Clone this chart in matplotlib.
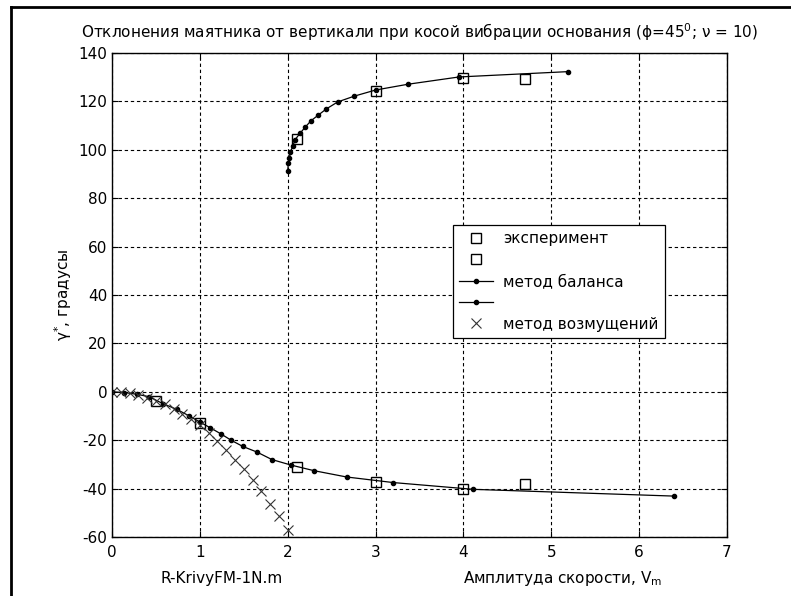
import matplotlib.pyplot as plt
from matplotlib.lines import Line2D

plt.rcParams['font.family'] = ['DejaVu Sans']
plt.rcParams['mathtext.fontset'] = 'custom'
plt.rcParams['mathtext.rm'] = 'DejaVu Sans'
plt.rcParams['axes.unicode_minus'] = False

FS = 11

# эксперимент: нижняя и верхняя ветви
exp_low_x = [0.5, 1.0, 2.1, 3.0, 4.0, 4.7]
exp_low_y = [-4.0, -13.0, -31.2, -37.4, -40.3, -38.3]
exp_up_x = [2.1, 3.0, 4.0, 4.7]
exp_up_y = [104.3, 124.5, 129.8, 129.3]

# метод баланса: нижняя ветвь
bal_low_x = [0, 0.14, 0.28, 0.42, 0.58, 0.74, 0.88, 1.0, 1.12, 1.24, 1.36,
             1.49, 1.65, 1.82, 2.04, 2.30, 2.67, 3.20, 4.11, 6.40]
bal_low_y = [0, -0.3, -1.0, -2.0, -4.9, -7.3, -10.0, -12.5, -14.9, -17.4, -20.1,
             -22.6, -24.9, -28.0, -30.3, -32.6, -35.2, -37.5, -40.3, -43.1]

# метод баланса: верхняя ветвь
bal_up_x = [2.0, 2.007, 2.02, 2.03, 2.06, 2.08, 2.14, 2.20, 2.265, 2.35, 2.44,
            2.57, 2.76, 3.0, 3.37, 3.95, 5.19]
bal_up_y = [91.4, 94.4, 96.7, 99.1, 101.6, 104.0, 106.8, 109.4, 112.0, 114.4, 116.9,
            119.8, 122.2, 124.7, 127.1, 130.1, 132.3]

# метод возмущений
pert_x = [0.0, 0.1, 0.2, 0.3, 0.4, 0.5, 0.6, 0.7, 0.8, 0.9, 1.0,
          1.1, 1.2, 1.3, 1.4, 1.5, 1.6, 1.7, 1.8, 1.9, 2.0]
pert_y = [0.0, -0.2, -0.6, -1.3, -2.4, -3.6, -5.2, -7.0, -9.0, -11.2, -13.8,
          -17.0, -20.5, -24.2, -28.0, -32.0, -36.5, -41.0, -46.3, -51.3, -57.3]

fig = plt.figure(figsize=(7.91, 5.96), dpi=100)
ax = fig.add_axes([112 / 791, 59 / 596, 615 / 791, 484 / 596])

sq = dict(linestyle='none', marker='s', markersize=7.5, markerfacecolor='none',
          markeredgecolor='black', markeredgewidth=1.0)
ln = dict(color='black', linewidth=0.9, marker='o', markersize=3)

ax.plot(exp_low_x, exp_low_y, label='эксперимент', **sq)
ax.plot(exp_up_x, exp_up_y, label=' ', **sq)
ax.plot(bal_low_x, bal_low_y, label='метод баланса', **ln)
ax.plot(bal_up_x, bal_up_y, label='  ', **ln)
ax.plot(pert_x, pert_y, linestyle='none', marker='x', markersize=6.5,
        color='#333333', markeredgewidth=0.8, label='метод возмущений')

ax.set_xlim(0, 7)
ax.set_ylim(-60, 140)
ax.set_xticks(range(0, 8))
ax.set_yticks(range(-60, 141, 20))
ax.grid(True, color='black', linestyle=(0, (3, 2.5)), linewidth=0.8)
ax.tick_params(direction='in', top=True, right=True, labelsize=FS, length=4)
ax.tick_params(axis='x', pad=6)
for s in ax.spines.values():
    s.set_linewidth(1.0)

ax.set_title('Отклонения маятника от вертикали при косой вибрации основания '
             '(ϕ=45$\\mathregular{^0}$; ν = 10)', fontsize=FS, pad=11)
ax.set_ylabel('$\\mathregular{γ^{*}}$, градусы', fontsize=FS, labelpad=3)

ax.text(161 / 791, 17 / 596, 'R-KrivyFM-1N.m', transform=fig.transFigure,
        fontsize=FS, va='center', ha='left')
ax.text(463 / 791, 17 / 596, 'Амплитуда скорости, V$\\mathregular{_m}$',
        transform=fig.transFigure, fontsize=FS, va='center', ha='left')

leg = ax.legend(loc='upper left', bbox_to_anchor=(0.5545, 0.6446), fontsize=FS,
                frameon=True, fancybox=False, edgecolor='black', framealpha=1,
                borderpad=0.4, labelspacing=0.42, handlelength=2.2,
                handletextpad=0.7, borderaxespad=0)
leg.get_frame().set_linewidth(0.9)

# рамка окна слева и сверху
fig.add_artist(Line2D([11 / 791, 11 / 791], [0, 1 - 7 / 596], color='black',
                      linewidth=2, transform=fig.transFigure))
fig.add_artist(Line2D([11 / 791, 1], [1 - 7 / 596, 1 - 7 / 596], color='black',
                      linewidth=2, transform=fig.transFigure))

fig.savefig('out.png', dpi=100)
